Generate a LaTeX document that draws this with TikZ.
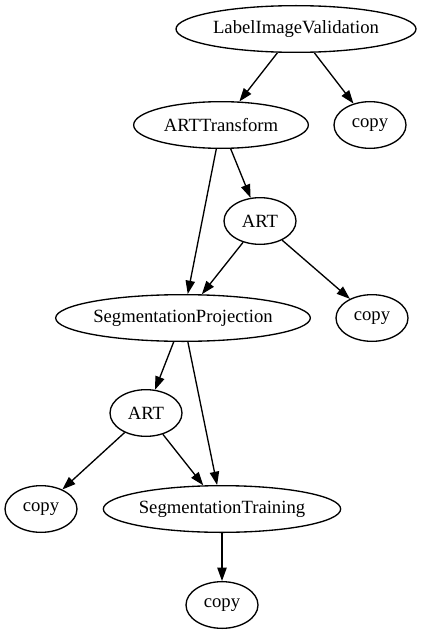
\documentclass[tikz,border=0pt]{standalone}
\usepackage{fontspec}
\setmainfont{Liberation Serif}
\usetikzlibrary{shapes.geometric,arrows.meta}

\begin{document}
\begin{tikzpicture}[x=0.75pt,y=-0.75pt,line width=1pt,
    every node/.style={ellipse,draw,inner sep=0pt,minimum height=35pt,minimum width=54pt,
      font=\fontsize{14}{16}\selectfont},
    >={Triangle[length=10pt,width=7pt]}]
    \useasboundingbox (0,0) rectangle (421,635);

    \node[minimum width=180pt] (liv) at (296,29) {LabelImageValidation};
    \node[minimum width=131pt] (artT) at (221,125) {ARTTransform};
    \node (cpA) at (370,125) {copy};
    \node (artA) at (260,221) {ART};
    \node[minimum width=191pt] (segP) at (183,318) {SegmentationProjection};
    \node (cpB) at (372,318) {copy};
    \node (artB) at (146,413) {ART};
    \node (cpC) at (41,509) {copy};
    \node[minimum width=178pt] (segT) at (222,509) {SegmentationTraining};
    \node (cpD) at (222,605) {copy};

    \draw[->] (liv) -- (artT);
    \draw[->] (liv) -- (cpA);

    \draw[->] (artT) -- (artA);
    \draw[->] (artT) -- (segP);
    \draw[->] (artA) -- (segP);
    \draw[->] (artA) -- (cpB);

    \draw[->] (segP) -- (artB);
    \draw[->] (segP) -- (segT);
    \draw[->] (artB) -- (cpC);
    \draw[->] (artB) -- (segT);

    \draw[->] (segT) -- (cpD);
\end{tikzpicture}
\end{document}
